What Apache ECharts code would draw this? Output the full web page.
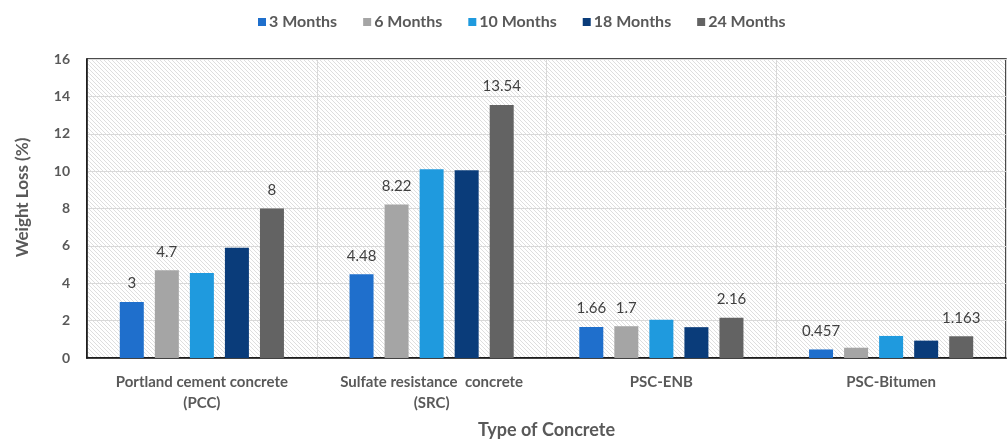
<!DOCTYPE html>
<html>
<head>
<meta charset="utf-8">
<script src="https://cdn.jsdelivr.net/npm/echarts@6/dist/echarts.min.js"></script>
<style>
  html, body { margin: 0; padding: 0; background: #fff; }
  #chart { width: 1008px; height: 441px; }
</style>
</head>
<body>
<div id="chart"></div>
<script>
// Weight loss of concrete types over exposure time
const categories = [
  'Portland cement concrete\n(PCC)',
  'Sulfate resistance  concrete\n(SRC)',
  'PSC-ENB',
  'PSC-Bitumen'
];
const seriesNames = ['3 Months', '6 Months', '10 Months', '18 Months', '24 Months'];
const months3  = [3, 4.48, 1.66, 0.457];
const months6  = [4.7, 8.22, 1.7, 0.55];
const months10 = [4.55, 10.1, 2.05, 1.18];
const months18 = [5.9, 10.05, 1.65, 0.93];
const months24 = [8, 13.54, 2.16, 1.163];
// which bars carry a value label (per series, per category)
const labelled = [
  [true, true, true, true],
  [true, true, true, false],
  [false, false, false, false],
  [false, false, false, false],
  [true, true, true, true]
];
const yTicks = [0, 2, 4, 6, 8, 10, 12, 14, 16];

const colors = ['#1f6fcc', '#a5a5a5', '#1f9ade', '#0a3c7a', '#636363'];
const allValues = [months3, months6, months10, months18, months24];

// diagonal hatch fill for the plot background
function hatchTile() {
  const s = 4;
  const c = document.createElement('canvas');
  c.width = s; c.height = s;
  const g = c.getContext('2d');
  g.fillStyle = '#ffffff';
  g.fillRect(0, 0, s, s);
  g.strokeStyle = '#dedede';
  g.lineWidth = 1;
  g.beginPath();
  g.moveTo(-1, -1); g.lineTo(s + 1, s + 1);
  g.moveTo(-1, s - 1); g.lineTo(1, s + 1);
  g.moveTo(s - 1, -1); g.lineTo(s + 1, 1);
  g.stroke();
  return c;
}

const font = 'Lato, "Open Sans", sans-serif';
const chart = echarts.init(document.getElementById('chart'), null, { renderer: 'canvas' });

chart.setOption({
  animation: false,
  textStyle: { fontFamily: font },
  legend: {
    top: 9,
    left: 253,
    itemWidth: 8,
    itemHeight: 8,
    itemGap: 26,
    icon: 'rect',
    textStyle: { color: '#595959', fontWeight: 'bold', fontSize: 16, fontFamily: font, padding: [0, 0, 0, -2] },
    data: seriesNames
  },
  grid: {
    left: 87, right: 2, top: 59, bottom: 83,
    outerBoundsMode: 'none',
    containLabel: false,
    show: true,
    borderColor: '#111',
    borderWidth: 1.5,
    backgroundColor: { image: hatchTile(), repeat: 'repeat' }
  },
  xAxis: {
    type: 'category',
    data: categories,
    name: 'Type of Concrete',
    nameLocation: 'middle',
    nameGap: 63,
    nameTextStyle: { color: '#595959', fontWeight: 'bold', fontSize: 18 },
    axisLine: { show: true, lineStyle: { color: '#111', width: 1.5 } },
    axisTick: { show: false },
    splitLine: { show: true, lineStyle: { color: '#d9d9d9', width: 1 } },
    axisLabel: {
      color: '#595959', fontWeight: 'bold', fontSize: 15, margin: 14, lineHeight: 21,
      interval: 0
    }
  },
  yAxis: {
    type: 'value',
    min: yTicks[0],
    max: yTicks[yTicks.length - 1],
    interval: yTicks[1] - yTicks[0],
    name: 'Weight Loss (%)',
    nameLocation: 'middle',
    nameGap: 56,
    nameTextStyle: { color: '#595959', fontWeight: 'bold', fontSize: 17, padding: [0, 0, 0, 22] },
    axisLine: { show: true, lineStyle: { color: '#111', width: 1.5 } },
    axisTick: { show: false },
    splitLine: { show: true, lineStyle: { color: '#d9d9d9', width: 1 } },
    axisLabel: { color: '#595959', fontWeight: 'bold', fontSize: 14, margin: 17 }
  },
  series: seriesNames.map((name, i) => ({
    name: name,
    type: 'bar',
    barWidth: 24,
    barGap: '46%',
    itemStyle: { color: colors[i] },
    label: {
      position: 'top',
      distance: 11,
      color: '#404040',
      fontSize: 15,
      fontFamily: font
    },
    data: allValues[i].map((v, j) => ({ value: v, label: { show: labelled[i][j] } }))
  }))
});
</script>
</body>
</html>
